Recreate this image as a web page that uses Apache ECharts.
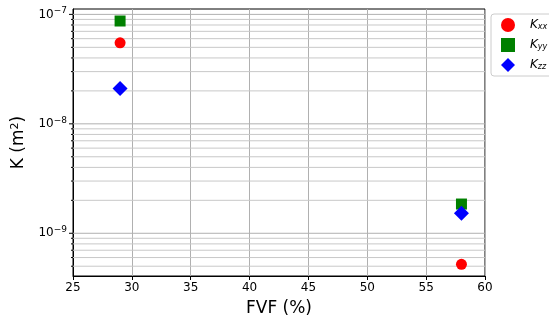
<!DOCTYPE html>
<html>
<head>
<meta charset="utf-8">
<script src="https://cdn.jsdelivr.net/npm/echarts@6/dist/echarts.min.js"></script>
<style>
  html, body { margin: 0; padding: 0; background: #fff; }
  #chart { width: 549px; height: 322px; }
</style>
</head>
<body>
<div id="chart"></div>
<script>
// Fibre volume fraction (%) and permeability components (m²)
const fvf = [29, 58];
const kxx = [5.5e-8, 5.2e-10];
const kyy = [8.7e-8, 1.85e-9];
const kzz = [2.1e-8, 1.52e-9];

// Axis tick values
const xTicks = [25, 30, 35, 40, 45, 50, 55, 60];
const yMajor = [1e-9, 1e-8, 1e-7];
const yMinor = [
  5e-10, 6e-10, 7e-10, 8e-10, 9e-10,
  2e-9, 3e-9, 4e-9, 5e-9, 6e-9, 7e-9, 8e-9, 9e-9,
  2e-8, 3e-8, 4e-8, 5e-8, 6e-8, 7e-8, 8e-8, 9e-8
];

const xMin = xTicks[0], xMax = xTicks[xTicks.length - 1];
const yMin = 4.07e-10, yMax = 1.12e-7;

const FONT = 'DejaVu Sans';
const chart = echarts.init(document.getElementById('chart'), null, { renderer: 'canvas' });

function pairs(ys) { return fvf.map((x, i) => [x, ys[i]]); }

// Horizontal grid line plus a short outward tick at a given y value
function gridLineRenderer(tickLen, color) {
  return function (params, api) {
    const y = api.value(0);
    const a = api.coord([xMin, y]);
    const b = api.coord([xMax, y]);
    return {
      type: 'group',
      children: [
        { type: 'line', shape: { x1: a[0], y1: a[1], x2: b[0], y2: b[1] },
          style: { stroke: color, lineWidth: 1 }, silent: true },
        { type: 'line', shape: { x1: a[0] - tickLen, y1: a[1], x2: a[0], y2: a[1] },
          style: { stroke: '#000', lineWidth: 1 }, silent: true }
      ]
    };
  };
}

const supExp = { 7: '−7', 8: '−8', 9: '−9' };

chart.setOption({
  animation: false,
  backgroundColor: '#fff',
  textStyle: { fontFamily: FONT },
  grid: {
    left: 73, right: 64, top: 9, bottom: 46,
    show: true, borderColor: '#000', borderWidth: 1, backgroundColor: 'transparent'
  },
  xAxis: {
    type: 'value',
    min: xMin, max: xMax, interval: 5,
    name: 'FVF (%)', nameLocation: 'middle', nameGap: 24,
    nameTextStyle: { fontFamily: FONT, fontSize: 17, color: '#000' },
    axisLine: { show: true, lineStyle: { color: '#000', width: 1 } },
    axisTick: { show: true, inside: false, length: 4, lineStyle: { color: '#000' } },
    axisLabel: { fontFamily: FONT, fontSize: 12, color: '#000', margin: 6 },
    splitLine: { show: true, lineStyle: { color: '#b0b0b0', width: 1 } }
  },
  yAxis: {
    type: 'log', logBase: 10,
    min: yMin, max: yMax,
    name: '{n|K (m}{s|2}{n|)}', nameLocation: 'middle', nameGap: 36,
    nameTextStyle: {
      rich: {
        n: { fontFamily: FONT, fontSize: 17, color: '#000' },
        s: { fontFamily: FONT, fontSize: 11, color: '#000', verticalAlign: 'top', padding: [0, 0, 8, 0] }
      }
    },
    axisLine: { show: true, lineStyle: { color: '#000', width: 1 } },
    axisTick: { show: false },
    splitLine: { show: false },
    axisLabel: {
      margin: 6,
      formatter: function (v) {
        const e = Math.round(Math.log10(v));
        if (Math.abs(Math.log10(v) - e) > 1e-6) return '';
        return '{b|10}{e|' + (supExp[-e] || String(e)) + '}';
      },
      rich: {
        b: { fontFamily: FONT, fontSize: 12, color: '#000' },
        e: { fontFamily: FONT, fontSize: 9, color: '#000', verticalAlign: 'top', padding: [0, 0, 7, 0] }
      }
    }
  },
  legend: {
    data: [
      { name: 'Kxx', icon: 'circle', itemStyle: { color: '#ff0000' } },
      { name: 'Kyy', icon: 'rect', itemStyle: { color: '#008000' } },
      { name: 'Kzz', icon: 'diamond', itemStyle: { color: '#0000ff' } }
    ],
    orient: 'vertical',
    left: 491, top: 14,
    padding: [4, 6, 4, 10],
    itemGap: 6,
    itemWidth: 14, itemHeight: 14,
    backgroundColor: '#fff',
    borderColor: '#cccccc', borderWidth: 1, borderRadius: 3,
    formatter: function (name) {
      return '{k|K}{s|' + name.slice(1) + '}';
    },
    textStyle: {
      rich: {
        k: { fontFamily: FONT, fontSize: 12, fontStyle: 'italic', color: '#000', padding: [0, 0, 0, 10] },
        s: { fontFamily: FONT, fontSize: 8, fontStyle: 'italic', color: '#000', verticalAlign: 'bottom', padding: [4, 0, 0, 0] }
      }
    }
  },
  series: [
    {
      type: 'custom', coordinateSystem: 'cartesian2d', silent: true, z: 1,
      data: yMinor.map(v => [v]),
      encode: { y: 0 },
      renderItem: gridLineRenderer(2, '#c8c8c8')
    },
    {
      type: 'custom', coordinateSystem: 'cartesian2d', silent: true, z: 1,
      data: yMajor.map(v => [v]),
      encode: { y: 0 },
      renderItem: gridLineRenderer(4, '#b0b0b0')
    },
    {
      name: 'Kxx', type: 'scatter', z: 5,
      symbol: 'circle', symbolSize: 11,
      itemStyle: { color: '#ff0000', opacity: 1 },
      data: pairs(kxx)
    },
    {
      name: 'Kyy', type: 'scatter', z: 5,
      symbol: 'rect', symbolSize: 11,
      itemStyle: { color: '#008000', opacity: 1 },
      data: pairs(kyy)
    },
    {
      name: 'Kzz', type: 'scatter', z: 6,
      symbol: 'diamond', symbolSize: 15,
      itemStyle: { color: '#0000ff', opacity: 1 },
      data: pairs(kzz)
    }
  ]
});
</script>
</body>
</html>
